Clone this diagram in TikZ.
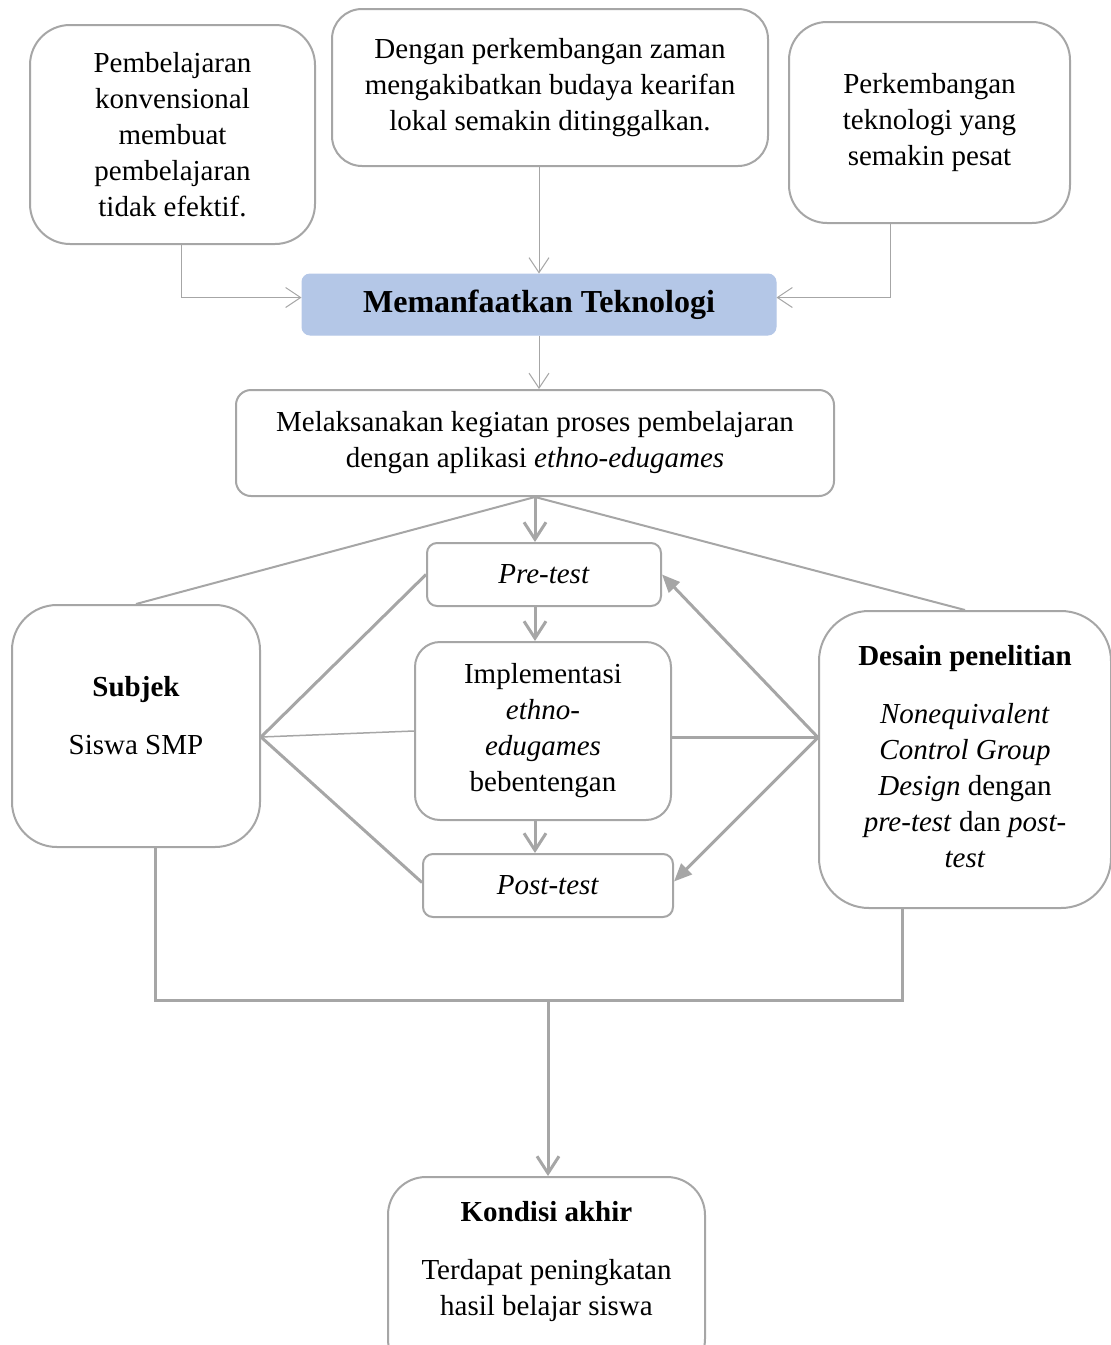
\documentclass[tikz,border=0pt]{standalone}
\usepackage{fontspec}
\setmainfont{Liberation Serif}
\usetikzlibrary{arrows.meta}
\definecolor{ln}{HTML}{A6A6A6}
\definecolor{tb}{HTML}{B4C7E7}
\begin{document}
\begin{tikzpicture}[x=1pt,y=-1pt,
  box/.style={draw=ln, line width=2pt, fill=white, align=center, inner sep=0pt,
              font=\fontsize{29}{36}\selectfont},
  plain/.style={align=center, inner sep=0pt, font=\fontsize{29}{36}\selectfont},
  thinline/.style={draw=ln, line width=1pt},
  midline/.style={draw=ln, line width=2pt},
  thickline/.style={draw=ln, line width=3pt},
  thinarrow/.style={thinline, -{Straight Barb[length=15pt,width=20pt,line width=1pt]}},
  thickarrow/.style={thickline, -{Straight Barb[length=17pt,width=22pt,line width=3pt]}},
  fillarrow/.style={thickline, -{Triangle[length=18pt,width=15pt]}}
]
\path[use as bounding box] (0,0) rectangle (1111,1345);

% top boxes
\node[box, rounded corners=40pt, minimum width=285pt, minimum height=219pt] (A) at (172.5,134.5)
  {Pembelajaran\\konvensional\\membuat\\pembelajaran\\tidak efektif.};
\node[box, rounded corners=30pt, minimum width=436pt, minimum height=157pt] (B) at (550,87.5)
  {Dengan perkembangan zaman\\mengakibatkan budaya kearifan\\lokal semakin ditinggalkan.};
\node[box, rounded corners=38pt, minimum width=281pt, minimum height=201pt] (C) at (929.5,122.5)
  {Perkembangan\\teknologi yang\\semakin pesat};

% central blue box
\node[fill=tb, draw=tb, line width=1pt, rounded corners=8pt, minimum width=474pt, minimum height=61pt,
      inner sep=0pt, font=\fontsize{32}{38}\selectfont\bfseries] (M) at (539,304.5)
  {Memanfaatkan Teknologi};

\node[box, rounded corners=15pt, minimum width=598pt, minimum height=106pt] (L) at (535,443)
  {Melaksanakan kegiatan proses pembelajaran\\dengan aplikasi \textit{ethno-edugames}};

% middle column
\node[box, rounded corners=10pt, minimum width=234pt, minimum height=63pt] (P) at (544,574.5)
  {\textit{Pre-test}};
\node[box, rounded corners=25pt, minimum width=256pt, minimum height=178pt] (I) at (543,731)
  {Implementasi\\\textit{ethno-}\\\textit{edugames}\\bebentengan};
\node[box, rounded corners=10pt, minimum width=250pt, minimum height=63pt] (Q) at (548,885.5)
  {\textit{Post-test}};

% side boxes
\node[box, rounded corners=45pt, minimum width=248pt, minimum height=242pt] (S) at (136,726) {};
\node[plain] (St) at (136,716) {\textbf{Subjek}\\[22pt]Siswa SMP};
\node[box, rounded corners=50pt, minimum width=292pt, minimum height=297pt] (D) at (965,759.5) {};
\node[plain] (Dt) at (965,757) {\textbf{Desain penelitian}\\[22pt]\textit{Nonequivalent}\\\textit{Control Group}\\\textit{Design} dengan\\\textit{pre-test} dan \textit{post-}\\\textit{test}};

% final box
\node[box, rounded corners=38pt, minimum width=317pt, minimum height=200pt] (K) at (546.5,1277) {};
\node[plain] (Kt) at (546.5,1262) {\textbf{Kondisi akhir}\\[22pt]Terdapat peningkatan\\hasil belajar siswa};

% coordinates
\coordinate (Sx) at ([yshift=-11pt]S.east);
\coordinate (Dx) at ([yshift=22pt]D.west);
\coordinate (J) at (548,1000);

% top connectors
\draw[thinarrow] ([xshift=8.5pt]A.south) |- ([yshift=7pt]M.west);
\draw[thinarrow] (M.north |- B.south) -- (M.north);
\draw[thinarrow] ([xshift=-39.5pt]C.south) |- ([yshift=7pt]M.east);
\draw[thinarrow] (M.south) -- (M.south |- L.north);

% from L
\draw[midline] (L.south) -- (S.north);
\draw[midline] (L.south) -- (D.north);
\draw[thickarrow] (L.south) -- (L.south |- P.north);
\draw[thickarrow] (L.south |- P.south) -- (L.south |- I.north);
\draw[thickarrow] (L.south |- I.south) -- (L.south |- Q.north);

% subject lines
\draw[thickline] (Sx) -- (P.west);
\draw[thinline, line width=1.5pt] (Sx) -- (I.west);
\draw[thickline] (Sx) -- ([yshift=3pt]Q.west);

% design lines
\draw[fillarrow] (Dx) -- (P.east);
\draw[midline, line width=2.5pt] (Dx) -- (I.east |- Dx);
\draw[fillarrow] (Dx) -- ([yshift=4pt]Q.east);

% bottom
\draw[thickline] ([xshift=19pt]S.south) |- (J);
\draw[thickline] ([xshift=-63pt]D.south) |- (J);
\draw[thickarrow] (J) -- (J |- K.north);
\end{tikzpicture}
\end{document}
